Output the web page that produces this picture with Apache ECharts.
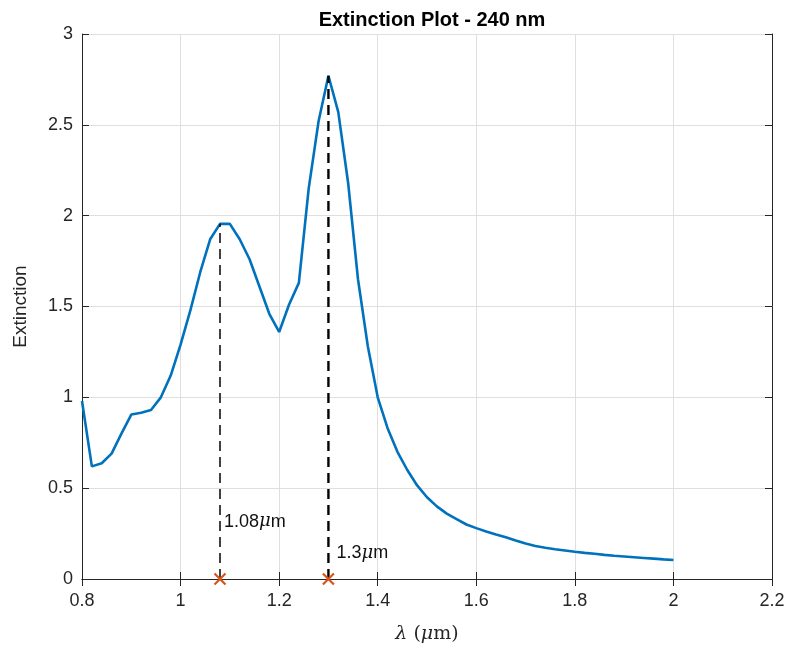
<!DOCTYPE html>
<html>
<head>
<meta charset="utf-8">
<script src="https://cdn.jsdelivr.net/npm/echarts@6/dist/echarts.min.js"></script>
<style>html,body{margin:0;padding:0;background:#fff}#c{width:791px;height:651px}</style>
</head>
<body>
<div id="c"></div>
<script>
var lambda = [0.80,0.82,0.84,0.86,0.88,0.90,0.92,0.94,0.96,0.98,1.00,1.02,1.04,1.06,1.08,1.10,1.12,1.14,1.16,1.18,1.20,1.22,1.24,1.26,1.28,1.30,1.32,1.34,1.36,1.38,1.40,1.42,1.44,1.46,1.48,1.50,1.52,1.54,1.56,1.58,1.60,1.62,1.64,1.66,1.68,1.70,1.72,1.74,1.76,1.78,1.80,1.82,1.84,1.86,1.88,1.90,1.92,1.94,1.96,1.98,2.00];
var extinction = [0.98,0.62,0.637,0.69,0.80,0.905,0.915,0.93,1.00,1.12,1.29,1.48,1.69,1.87,1.955,1.955,1.87,1.76,1.61,1.46,1.36,1.51,1.63,2.15,2.52,2.77,2.57,2.18,1.65,1.28,1.00,0.83,0.70,0.60,0.515,0.45,0.40,0.36,0.33,0.30,0.28,0.262,0.245,0.23,0.212,0.195,0.182,0.172,0.164,0.157,0.150,0.144,0.139,0.133,0.128,0.124,0.120,0.116,0.112,0.108,0.105];
var peakLambda = [1.08, 1.30];
var peakValue = [1.955, 2.77];
var peakLabelY = [0.316, 0.143];
var peakLabels = ['1.08', '1.3'];
var xTicks = [0.8,1,1.2,1.4,1.6,1.8,2,2.2];
var yTicks = [0,0.5,1,1.5,2,2.5,3];

var FONT = 'Liberation Sans, Arial, Helvetica, sans-serif';
var SERIF = 'DejaVu Serif, serif';
var TXT = '#262626';

var curve = lambda.map(function(l,i){return [l, extinction[i]];});

var series = [{
  type:'line', data:curve, showSymbol:false, symbol:'none',
  lineStyle:{color:'#0072BD', width:2.6}, z:3
}];
peakLambda.forEach(function(p,i){
  series.push({
    type:'line', data:[[p,0],[p,peakValue[i]]], symbol:'none',
    lineStyle:{color:'#000', width: i===0?1.5:2.4, type:[10,6]}, z:4
  });
});
series.push({
  type:'scatter',
  data: peakLambda.map(function(p){return [p,0];}),
  symbol:'path://M0,0L10,10M10,0L0,10',
  symbolSize:11,
  itemStyle:{color:'transparent', borderColor:'#D95319', borderWidth:2.2, opacity:1},
  z:5
});
series.push({
  type:'scatter',
  data: peakLambda.map(function(p,i){
    return {value:[p,peakLabelY[i]], name:peakLabels[i], label:{distance: i===0?4:8}};
  }),
  symbolSize:0,
  itemStyle:{opacity:1},
  label:{show:true, position:'right', opacity:1,
    formatter:function(d){return d.name+'{m|\u03bc}m';},
    color:'#111', fontFamily:FONT, fontSize:18, textBorderWidth:0,
    rich:{m:{fontStyle:'italic', fontFamily:SERIF, fontSize:18, color:'#111'}}
  },
  z:6
});

var chart = echarts.init(document.getElementById('c'), null, {renderer:'canvas'});
chart.setOption({
  animation:false,
  backgroundColor:'#fff',
  title:{text:'Extinction Plot - 240 nm', left:427, top:5, textAlign:'center',
    textStyle:{fontFamily:FONT, fontWeight:'bold', fontSize:20, color:'#000'}},
  grid:{left:82, right:19, top:34, bottom:72},
  xAxis:[{
    type:'value', min:xTicks[0], max:xTicks[xTicks.length-1], interval:0.2,
    name:'{l|\u03bb} ({m|\u03bc}m)', nameLocation:'middle', nameGap:46,
    nameTextStyle:{fontFamily:SERIF, fontSize:19, color:TXT,
      rich:{l:{fontStyle:'italic', fontFamily:SERIF, fontSize:19, color:TXT},
            m:{fontStyle:'italic', fontFamily:SERIF, fontSize:19, color:TXT}}},
    axisLine:{show:true, lineStyle:{color:TXT, width:1}},
    axisTick:{show:true, inside:true, length:7, lineStyle:{color:TXT}},
    axisLabel:{color:TXT, fontFamily:FONT, fontSize:18, margin:13,
      formatter:function(v){return String(Math.round(v*10)/10);}},
    splitLine:{show:true, lineStyle:{color:'#dfdfdf', width:1}}
  },{
    type:'value', position:'top', min:xTicks[0], max:xTicks[xTicks.length-1], interval:0.2,
    axisLine:{show:true, lineStyle:{color:TXT, width:1}},
    axisTick:{show:true, inside:true, length:7, lineStyle:{color:TXT}},
    axisLabel:{show:false}, splitLine:{show:false}
  }],
  yAxis:[{
    type:'value', min:yTicks[0], max:yTicks[yTicks.length-1], interval:0.5,
    name:'Extinction', nameLocation:'middle', nameGap:52,
    nameTextStyle:{fontFamily:FONT, fontSize:19, color:TXT},
    axisLine:{show:true, lineStyle:{color:TXT, width:1}},
    axisTick:{show:true, inside:true, length:7, lineStyle:{color:TXT}},
    axisLabel:{color:TXT, fontFamily:FONT, fontSize:18, margin:9},
    splitLine:{show:true, lineStyle:{color:'#dfdfdf', width:1}}
  },{
    type:'value', position:'right', min:yTicks[0], max:yTicks[yTicks.length-1], interval:0.5,
    axisLine:{show:true, lineStyle:{color:TXT, width:1}},
    axisTick:{show:true, inside:true, length:7, lineStyle:{color:TXT}},
    axisLabel:{show:false}, splitLine:{show:false}
  }],
  series:series
});
</script>
</body>
</html>
